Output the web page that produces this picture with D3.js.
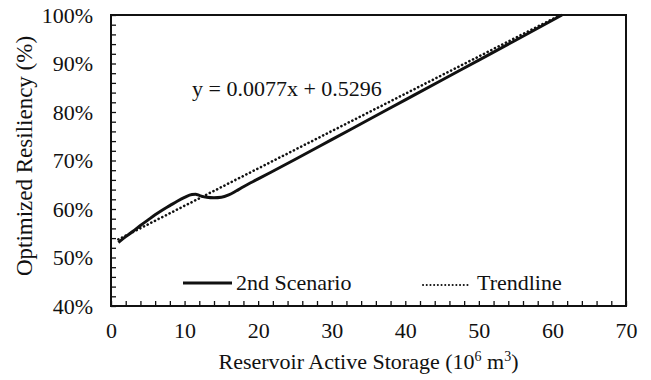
<!DOCTYPE html>
<html>
<head>
<meta charset="utf-8">
<script src="https://cdn.jsdelivr.net/npm/d3@7/dist/d3.min.js"></script>
<style>
  html, body { margin: 0; padding: 0; background: #fff; }
  svg { display: block; }
  text { font-family: "Liberation Serif", "Times New Roman", serif; fill: #111; }
</style>
</head>
<body>
<div id="chart"></div>
<script>
// Optimized resiliency against reservoir active storage (2nd scenario)
const storage = [1, 2, 3, 4, 5, 6, 7, 8, 9, 10, 11, 11.5, 12, 13, 14, 15, 16, 17, 18, 20, 25, 30, 35, 40, 45, 50, 55, 61.3];
const resiliency = [53.1, 54.3, 55.4, 56.6, 57.7, 58.8, 59.8, 60.7, 61.6, 62.4, 63.0, 63.05, 62.8, 62.4, 62.3, 62.4, 62.9, 63.7, 64.6, 66.2, 70.2, 74.3, 78.4, 82.5, 86.6, 90.7, 94.8, 100];

// Linear trendline y = 0.0077x + 0.5296 (fraction), drawn over the storage range
const trendSlope = [0.0077];
const trendIntercept = [0.5296];
const trendRange = [1, 61];

const xTickLabels = [0, 10, 20, 30, 40, 50, 60, 70];
const yTickLabels = [40, 50, 60, 70, 80, 90, 100];
const seriesNames = ["2nd Scenario", "Trendline"];

const width = 651, height = 380;
const margin = { top: 15, right: 25, bottom: 74, left: 111 };
const iw = width - margin.left - margin.right;
const ih = height - margin.top - margin.bottom;

const svg = d3.select("#chart").append("svg")
  .attr("width", width).attr("height", height);
const g = svg.append("g").attr("transform", `translate(${margin.left},${margin.top})`);

const x = d3.scaleLinear().domain([0, 70]).range([0, iw]);
const y = d3.scaleLinear().domain([40, 100]).range([ih, 0]);

// Minor ticks every 2 units pointing inward, labels every 10
const xTicks = d3.range(0, 70.001, 2);
const yTicks = d3.range(40, 100.001, 2);

const xAxis = g.append("g").attr("transform", `translate(0,${ih})`)
  .call(d3.axisBottom(x).tickValues(xTicks).tickSize(-5)
    .tickFormat(d => xTickLabels.includes(d) ? d3.format("d")(d) : ""));
xAxis.select(".domain").remove();
xAxis.selectAll(".tick line").attr("stroke", "#111").attr("stroke-width", 1.3);
xAxis.selectAll(".tick text").attr("y", 32).attr("dy", 0)
  .style("font-size", "22px");

const yAxis = g.append("g")
  .call(d3.axisLeft(y).tickValues(yTicks).tickSize(-5)
    .tickFormat(d => yTickLabels.includes(d) ? d + "%" : ""));
yAxis.select(".domain").remove();
yAxis.selectAll(".tick line").attr("stroke", "#111").attr("stroke-width", 1.3);
yAxis.selectAll(".tick text").attr("x", -18).attr("dy", "0.33em")
  .style("font-size", "22px");

// Plot frame
g.append("rect").attr("x", 0).attr("y", 0).attr("width", iw).attr("height", ih)
  .attr("fill", "none").attr("stroke", "#111").attr("stroke-width", 2);

// Trendline (dotted)
const trendPts = trendRange.map(v => [v, (trendSlope[0] * v + trendIntercept[0]) * 100]);
g.append("path")
  .datum(trendPts)
  .attr("d", d3.line().x(d => x(d[0])).y(d => y(d[1])))
  .attr("fill", "none").attr("stroke", "#111").attr("stroke-width", 2.6)
  .attr("stroke-linecap", "round").attr("stroke-dasharray", "0.1 4");

// 2nd scenario curve
const pts = storage.map((s, i) => [s, resiliency[i]]);
g.append("path")
  .datum(pts)
  .attr("d", d3.line().x(d => x(d[0])).y(d => y(d[1])).curve(d3.curveMonotoneX))
  .attr("fill", "none").attr("stroke", "#111").attr("stroke-width", 3);

// Trendline equation
g.append("text")
  .attr("x", 192 - margin.left).attr("y", 96 - margin.top)
  .style("font-size", "22px")
  .text("y = 0.0077x + 0.5296");

// Legend
const legY = 283 - margin.top;
g.append("line").attr("x1", 183 - margin.left).attr("x2", 232 - margin.left)
  .attr("y1", legY).attr("y2", legY).attr("stroke", "#111").attr("stroke-width", 3);
g.append("text").attr("x", 236 - margin.left).attr("y", legY).attr("dy", "0.33em")
  .style("font-size", "22px").text(seriesNames[0]);
g.append("line").attr("x1", 423 - margin.left).attr("x2", 468 - margin.left)
  .attr("y1", legY + 2).attr("y2", legY + 2).attr("stroke", "#111").attr("stroke-width", 2)
  .attr("stroke-linecap", "round").attr("stroke-dasharray", "0.1 3.6");
g.append("text").attr("x", 477 - margin.left).attr("y", legY).attr("dy", "0.33em")
  .style("font-size", "22px").text(seriesNames[1]);

// Axis titles
const xTitle = svg.append("text")
  .attr("x", margin.left + iw / 2).attr("y", 369)
  .attr("text-anchor", "middle").style("font-size", "22px");
xTitle.append("tspan").text("Reservoir Active Storage (10");
xTitle.append("tspan").attr("dy", -8).style("font-size", "14px").text("6");
xTitle.append("tspan").attr("dy", 8).text(" m");
xTitle.append("tspan").attr("dy", -8).style("font-size", "14px").text("3");
xTitle.append("tspan").attr("dy", 8).text(")");

svg.append("text")
  .attr("transform", `translate(32,${156}) rotate(-90)`)
  .attr("text-anchor", "middle").style("font-size", "23px")
  .text("Optimized Resiliency (%)");
</script>
</body>
</html>
